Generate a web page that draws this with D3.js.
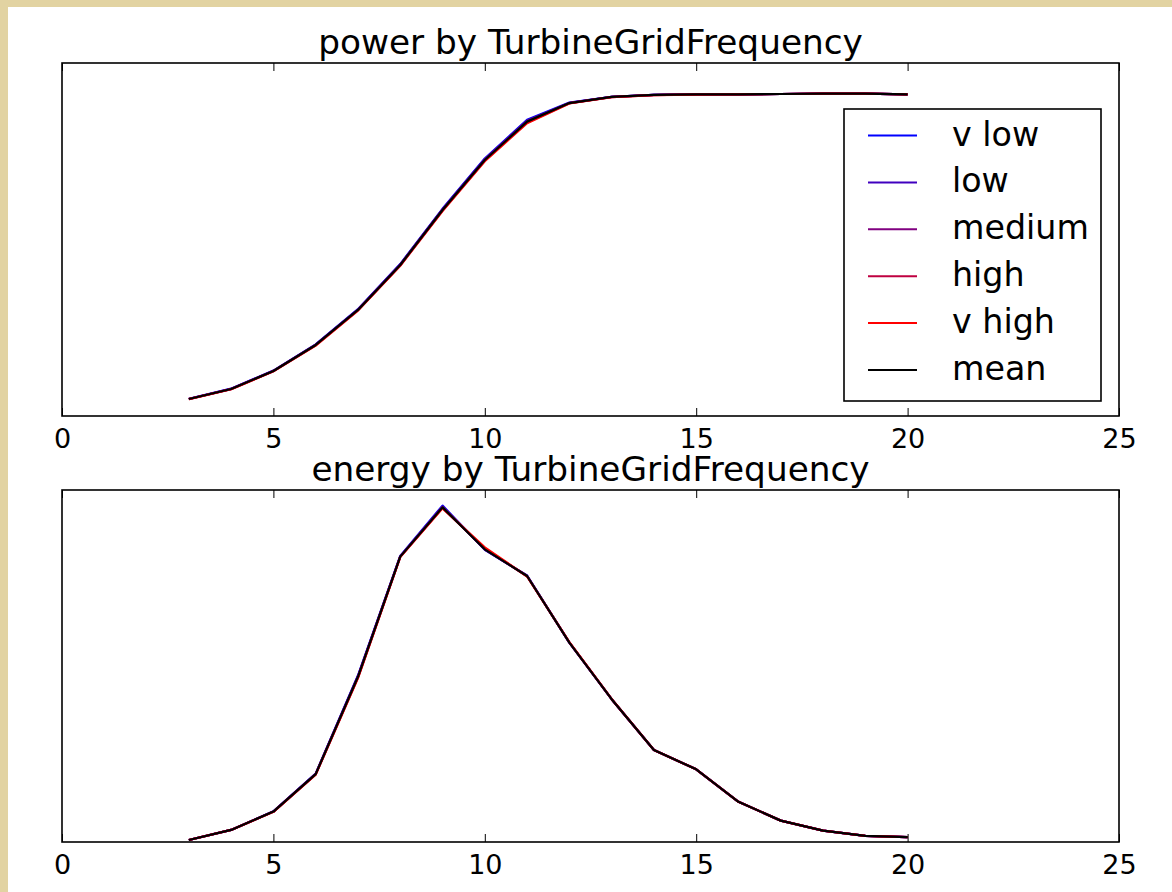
<!DOCTYPE html>
<html>
<head>
<meta charset="utf-8">
<script src="https://cdn.jsdelivr.net/npm/d3@7"></script>
<style>
  html, body { margin: 0; padding: 0; background: #ffffff; }
  svg { display: block; }
  text { font-family: "DejaVu Sans", sans-serif; fill: #000; }
</style>
</head>
<body>
<svg id="chart" width="1172" height="892"></svg>
<script>
// ---------- data ----------
const windSpeed = [3, 4, 5, 6, 7, 8, 9, 10, 11, 12, 13, 14, 15, 16, 17, 18, 19, 20];
const xTicks = [0, 5, 10, 15, 20, 25];
const seriesNames = ["v low", "low", "medium", "high", "v high", "mean"];
const seriesColors = ["#0000ff", "#4000bf", "#800080", "#bf0040", "#ff0000", "#000000"];

// power (kW) by wind speed, one array per grid-frequency band
const powerVLow   = [12, 78, 196, 367, 596, 890, 1250, 1578, 1830, 1942, 1980, 1992, 1995, 1995, 1998, 2001, 2000, 1995];
const powerLow    = [11, 77, 194, 365, 594, 888, 1247, 1574, 1825, 1940, 1979, 1992, 1995, 1995, 1998, 2001, 2000, 1995];
const powerMedium = [11, 76, 193, 363, 591, 884, 1243, 1569, 1820, 1939, 1979, 1992, 1995, 1995, 1998, 2001, 2000, 1995];
const powerHigh   = [10, 75, 192, 361, 589, 881, 1239, 1564, 1813, 1938, 1978, 1991, 1995, 1995, 1998, 2001, 2000, 1995];
const powerVHigh  = [10, 74, 191, 359, 587, 879, 1236, 1560, 1808, 1936, 1978, 1991, 1994, 1995, 1998, 2000, 2000, 1995];
const powerMean   = [11, 76, 193, 363, 591, 884, 1242, 1568, 1818, 1939, 1979, 1992, 1995, 1995, 1998, 2001, 2000, 1995];

// energy share (%) by wind speed
const energyVLow   = [0.08, 0.48, 1.22, 2.72, 6.62, 11.38, 13.38, 11.62, 10.60, 7.93, 5.68, 3.66, 2.89, 1.60, 0.85, 0.45, 0.24, 0.19];
const energyLow    = [0.08, 0.48, 1.21, 2.71, 6.60, 11.36, 13.35, 11.63, 10.59, 7.93, 5.68, 3.66, 2.89, 1.60, 0.85, 0.45, 0.24, 0.19];
const energyMedium = [0.08, 0.48, 1.21, 2.70, 6.57, 11.35, 13.32, 11.64, 10.58, 7.93, 5.68, 3.66, 2.89, 1.60, 0.85, 0.45, 0.24, 0.19];
const energyHigh   = [0.08, 0.48, 1.20, 2.69, 6.54, 11.34, 13.29, 11.68, 10.57, 7.94, 5.68, 3.66, 2.89, 1.60, 0.85, 0.45, 0.24, 0.19];
const energyVHigh  = [0.08, 0.48, 1.20, 2.68, 6.52, 11.33, 13.27, 11.72, 10.56, 7.95, 5.69, 3.66, 2.89, 1.60, 0.85, 0.45, 0.24, 0.19];
const energyMean   = [0.08, 0.48, 1.21, 2.70, 6.57, 11.35, 13.31, 11.64, 10.58, 7.93, 5.68, 3.66, 2.89, 1.60, 0.85, 0.45, 0.24, 0.19];

const panels = [
  { title: "power by TurbineGridFrequency", top: 63, bottom: 416, yDomain: [-100, 2200],
    series: [powerVLow, powerLow, powerMedium, powerHigh, powerVHigh, powerMean], legend: true },
  { title: "energy by TurbineGridFrequency", top: 490, bottom: 842, yDomain: [0, 14],
    series: [energyVLow, energyLow, energyMedium, energyHigh, energyVHigh, energyMean], legend: false }
];

// ---------- drawing ----------
const svg = d3.select("#chart");
// beige frame bands
svg.append("rect").attr("x", 0).attr("y", 0).attr("width", 1172).attr("height", 7).attr("fill", "#e2d3a2");
svg.append("rect").attr("x", 0).attr("y", 0).attr("width", 8).attr("height", 892).attr("fill", "#e2d3a2");

const left = 62, right = 1119;
const x = d3.scaleLinear().domain([0, 25]).range([left, right]);

panels.forEach(p => {
  const y = d3.scaleLinear().domain(p.yDomain).range([p.bottom, p.top]);
  const g = svg.append("g");

  // lines
  const line = d3.line().x((d, i) => x(windSpeed[i])).y(d => y(d));
  p.series.forEach((s, k) => {
    g.append("path").datum(s)
      .attr("d", line)
      .attr("fill", "none")
      .attr("stroke", seriesColors[k])
      .attr("stroke-width", 2.2)
      .attr("stroke-linejoin", "round");
  });

  // frame
  g.append("rect")
    .attr("x", left).attr("y", p.top)
    .attr("width", right - left).attr("height", p.bottom - p.top)
    .attr("fill", "none").attr("stroke", "#000").attr("stroke-width", 1.6);

  // bottom axis (inward ticks + labels)
  const ax = g.append("g").attr("transform", `translate(0,${p.bottom})`)
    .call(d3.axisBottom(x).tickValues(xTicks).tickSize(-8).tickPadding(13).tickFormat(d3.format("d")));
  ax.select(".domain").remove();
  ax.selectAll("line").attr("stroke", "#000").attr("stroke-width", 1);
  ax.selectAll("text").attr("font-size", 27).attr("font-family", "DejaVu Sans, sans-serif").attr("fill", "#000");

  // top axis (inward ticks only)
  const axT = g.append("g").attr("transform", `translate(0,${p.top})`)
    .call(d3.axisTop(x).tickValues(xTicks).tickSize(-8).tickFormat(""));
  axT.select(".domain").remove();
  axT.selectAll("line").attr("stroke", "#000").attr("stroke-width", 1);

  // title
  g.append("text")
    .attr("x", (left + right) / 2).attr("y", p.top - 9)
    .attr("text-anchor", "middle")
    .attr("font-size", 34.3)
    .text(p.title);

  // legend
  if (p.legend) {
    const lg = g.append("g");
    lg.append("rect").attr("x", 844).attr("y", 109).attr("width", 257).attr("height", 292)
      .attr("fill", "#fff").attr("stroke", "#000").attr("stroke-width", 1.6);
    seriesNames.forEach((name, k) => {
      const ly = 135.5 + k * 46.9;
      lg.append("line").attr("x1", 868).attr("x2", 917).attr("y1", ly).attr("y2", ly)
        .attr("stroke", seriesColors[k]).attr("stroke-width", 2);
      lg.append("text").attr("x", 952).attr("y", ly + 10).attr("font-size", 33.3).text(name);
    });
  }
});
</script>
</body>
</html>
